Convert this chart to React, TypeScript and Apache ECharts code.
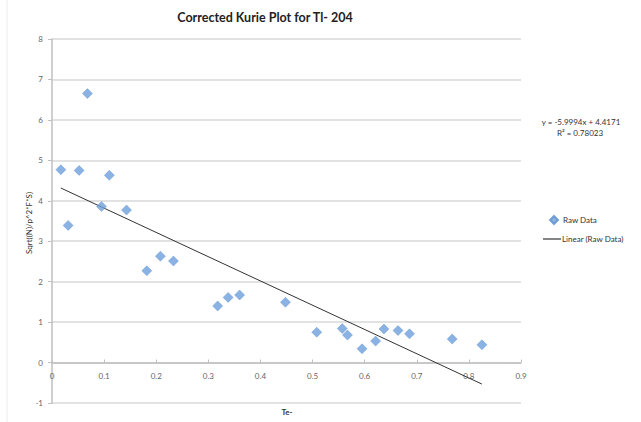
import React, { useEffect, useRef } from "react";
import * as echarts from "echarts";

const xValues = [0.017, 0.031, 0.052, 0.068, 0.095, 0.11, 0.143, 0.182, 0.208, 0.233, 0.318, 0.338, 0.36, 0.448, 0.508, 0.557, 0.567, 0.595, 0.621, 0.637, 0.664, 0.686, 0.768, 0.825];
const yValues = [4.77, 3.39, 4.75, 6.65, 3.86, 4.63, 3.77, 2.27, 2.63, 2.51, 1.4, 1.61, 1.67, 1.49, 0.75, 0.84, 0.68, 0.34, 0.53, 0.83, 0.79, 0.71, 0.58, 0.44];
const slope = -5.9994;
const intercept = 4.4171;
const rSquared = 0.78023;
const titleText = "Corrected Kurie Plot for Tl- 204";
const yName = "Sqrt((N)/p^2*F*S)";
const xName = "Te-";

export default function App() {
  const ref = useRef<HTMLDivElement>(null);
  useEffect(() => {
    if (!ref.current) return;
    const chart = echarts.init(ref.current, undefined, { renderer: "svg" });
    const points = xValues.map((x, i) => [x, yValues[i]]);
    const xMin = Math.min(...xValues);
    const xMax = Math.max(...xValues);
    const trend = [
      [xMin, slope * xMin + intercept],
      [xMax, slope * xMax + intercept],
    ];
    const font = "Lato, 'Open Sans', sans-serif";
    const gridTop = 39;
    const gridBottom = 19;
    const yMin = -1;
    const yMax = 8;
    const plotH = 422 - gridTop - gridBottom;
    const zeroOffset = -(0 - yMin) * (plotH / (yMax - yMin));
    chart.setOption({
      animation: false,
      backgroundColor: "#ffffff",
      textStyle: { fontFamily: font },
      grid: { left: 52, right: 120, top: gridTop, bottom: gridBottom, containLabel: false },
      xAxis: {
        type: "value",
        min: 0,
        max: 0.9,
        interval: 0.1,
        position: "bottom",
        offset: zeroOffset,
        axisLine: { show: true, onZero: false, lineStyle: { color: "#bfbfbf", width: 1.5 } },
        axisTick: { show: true, inside: true, length: 3, lineStyle: { color: "#bfbfbf" } },
        axisLabel: { fontSize: 8, color: "#666666", margin: 9, fontFamily: font },
        splitLine: { show: false },
      },
      yAxis: {
        type: "value",
        min: yMin,
        max: yMax,
        interval: 1,
        axisLine: { show: true, onZero: false, lineStyle: { color: "#bfbfbf", width: 1.5 } },
        axisTick: { show: true, length: 4, lineStyle: { color: "#bfbfbf" } },
        axisLabel: { fontSize: 8, color: "#666666", margin: 9, fontFamily: font },
        splitLine: { show: true, lineStyle: { color: "#d9d9d9", width: 1.5 } },
      },
      legend: [
        {
          data: [{ name: "Raw Data", icon: "diamond" }],
          orient: "vertical",
          left: 549,
          top: 215,
          padding: 0,
          itemWidth: 8,
          itemHeight: 8,
          itemGap: 6,
          textStyle: { fontSize: 8, color: "#333333", fontFamily: font },
        },
        {
          data: [{ name: "Linear (Raw Data)", icon: "rect" }],
          orient: "vertical",
          left: 543,
          top: 235,
          padding: 0,
          itemWidth: 18,
          itemHeight: 1.2,
          itemGap: 6,
          textStyle: { fontSize: 8, color: "#333333", fontFamily: font, padding: [0, 0, 0, -4] },
        },
      ],
      series: [
        {
          name: "Raw Data",
          type: "scatter",
          data: points,
          symbol: "diamond",
          symbolSize: 10,
          itemStyle: { color: "#6d9fdb", borderColor: "#5b8fcf", borderWidth: 0.5 },
          z: 3,
        },
        {
          name: "Linear (Raw Data)",
          type: "line",
          data: trend,
          symbol: "none",
          lineStyle: { color: "#333333", width: 1 },
          itemStyle: { color: "#333333" },
          z: 2,
        },
      ],
      graphic: [
        {
          type: "line",
          shape: { x1: 7, y1: 0, x2: 7, y2: 422 },
          style: { stroke: "#ececec", lineWidth: 1 },
          silent: true,
        },
        {
          type: "text",
          x: 265,
          y: 17,
          style: {
            text: titleText,
            fontSize: 12.5,
            fontWeight: "bold",
            fontFamily: font,
            fill: "#222222",
            textAlign: "center",
            textVerticalAlign: "middle",
          },
        },
        {
          type: "text",
          x: 29,
          y: 223,
          rotation: Math.PI / 2,
          style: {
            text: yName,
            fontSize: 8,
            fontFamily: font,
            fill: "#333333",
            textAlign: "center",
            textVerticalAlign: "middle",
          },
        },
        {
          type: "text",
          x: 287,
          y: 412,
          style: {
            text: xName,
            fontSize: 8,
            fontWeight: "bold",
            fontFamily: font,
            fill: "#333333",
            textAlign: "center",
            textVerticalAlign: "middle",
          },
        },
        {
          type: "text",
          x: 581,
          y: 122,
          style: {
            text: `y = ${slope}x + ${intercept}`,
            fontSize: 8,
            fontFamily: font,
            fill: "#333333",
            textAlign: "center",
            textVerticalAlign: "middle",
          },
        },
        {
          type: "text",
          x: 580,
          y: 133,
          style: {
            text: `R² = ${rSquared}`,
            fontSize: 8,
            fontFamily: font,
            fill: "#333333",
            textAlign: "center",
            textVerticalAlign: "middle",
          },
        },
      ],
    });
    return () => chart.dispose();
  }, []);
  return (
    <div
      ref={ref}
      style={{ position: "absolute", left: 0, top: 0, width: 641, height: 422 }}
    />
  );
}
